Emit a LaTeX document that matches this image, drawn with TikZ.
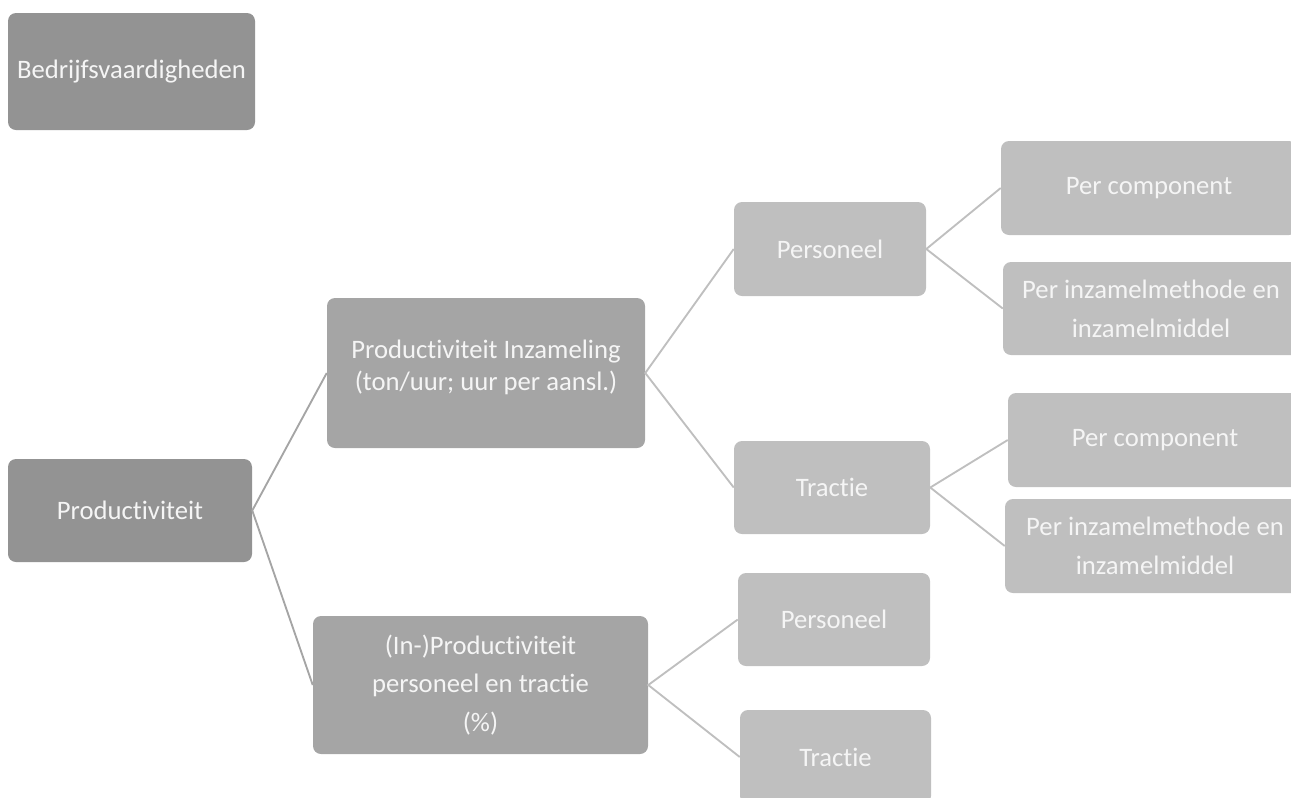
\documentclass[tikz,border=0pt]{standalone}
\usepackage{fontspec}
\setmainfont{Carlito}[Ligatures=NoCommon]
\definecolor{c1}{HTML}{939393}
\definecolor{c2}{HTML}{A5A5A5}
\definecolor{c3}{HTML}{BFBFBF}
\definecolor{ln1}{HTML}{A5A5A5}
\definecolor{ln2}{HTML}{BFBFBF}
\definecolor{tx}{HTML}{F5F5F5}
\begin{document}
\begin{tikzpicture}[x=0.75pt,y=-0.75pt,
  box/.style={rounded corners=6pt, text=tx, align=center, inner sep=0pt,
    font=\fontsize{20}{29.5}\selectfont},
  lvA/.style={box, fill=c1},
  lvB/.style={box, fill=c2},
  lvC/.style={box, fill=c3},
  linkA/.style={draw=ln1, line width=1.4pt},
  linkB/.style={draw=ln2, line width=1.4pt}]
\useasboundingbox (0,0) rectangle (1291,797);
\clip (0,0) rectangle (1291,797);
\node[lvA, minimum width=185.25pt, minimum height=87.75pt] (bv) at (131.5,71.5) {Bedrijfsvaardigheden};
\node[lvA, minimum width=183pt, minimum height=77.25pt] (prod) at (130,510.5) {Productiviteit};
\node[lvB, minimum width=238.5pt, minimum height=112.5pt, font=\fontsize{20}{23.5}\selectfont] (pi) at (486,373) {Productiviteit Inzameling\\(ton/uur; uur per aansl.)\\[-19pt]\strut};
\node[lvB, minimum width=251.25pt, minimum height=103.5pt, font=\fontsize{20}{28.9}\selectfont] (ip) at (480.5,685) {(In-)Productiviteit\\personeel en tractie\\(\%)};
\node[lvC, minimum width=144pt, minimum height=70.5pt] (p1) at (830,249) {Personeel};
\node[lvC, minimum width=147pt, minimum height=69.75pt] (t1) at (832,487.5) {Tractie};
\node[lvC, minimum width=222pt, minimum height=70.5pt] (pc1) at (1149,188) {Per component};
\node[lvC, minimum width=222pt, minimum height=69.75pt] (pm1) at (1151,308.5) {Per inzamelmethode en\\inzamelmiddel};
\node[lvC, minimum width=220.5pt, minimum height=70.5pt] (pc2) at (1155,440) {Per component};
\node[lvC, minimum width=225pt, minimum height=70.5pt] (pm2) at (1155,546) {Per inzamelmethode en\\inzamelmiddel};
\node[lvC, minimum width=144pt, minimum height=69.75pt] (p2) at (834,619.5) {Personeel};
\node[lvC, minimum width=143.25pt, minimum height=70.5pt] (t2) at (835.5,757) {Tractie};
\draw[linkA] (pi.west) -- (prod.east) -- (ip.west);
\draw[linkB] (p1.west) -- (pi.east) -- (t1.west);
\draw[linkB] (pc1.west) -- (p1.east) -- (pm1.west);
\draw[linkB] (pc2.west) -- (t1.east) -- (pm2.west);
\draw[linkB] (p2.west) -- (ip.east) -- (t2.west);
\end{tikzpicture}
\end{document}
